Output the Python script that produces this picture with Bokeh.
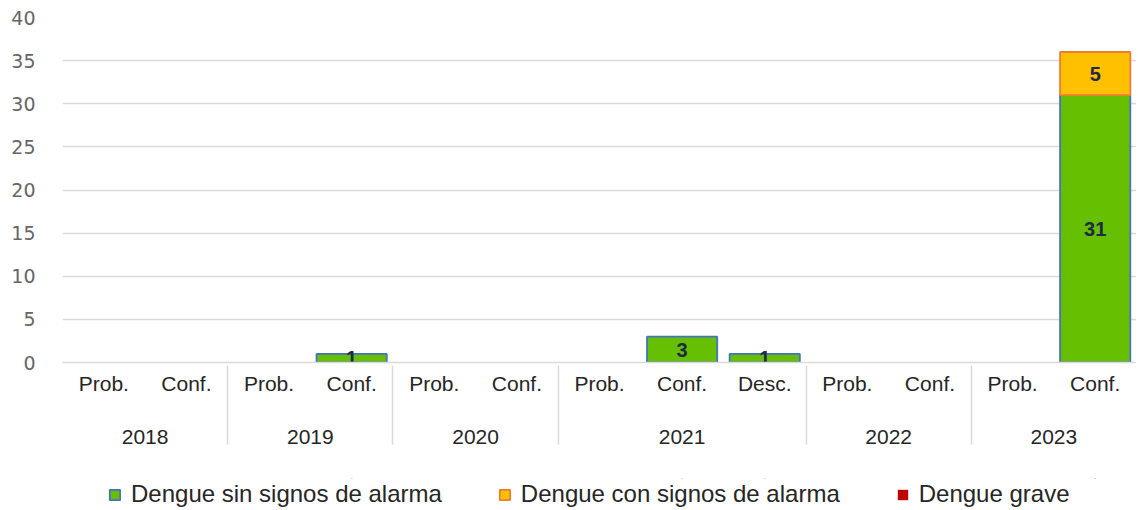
from bokeh.plotting import figure
from bokeh.models import FactorRange, ColumnDataSource, Legend, LegendItem, Range1d, FixedTicker
from bokeh.layouts import column
from bokeh.embed import file_html
from bokeh.resources import INLINE
from bokeh.core.properties import value

# ---------------- data ----------------
years = ["2018", "2019", "2020", "2021", "2022", "2023"]
statuses = [["Prob.", "Conf."], ["Prob.", "Conf."], ["Prob.", "Conf."],
            ["Prob.", "Conf.", "Desc."], ["Prob.", "Conf."], ["Prob.", "Conf."]]
sin_signos = [0, 0, 0, 1, 0, 0, 0, 3, 1, 0, 0, 0, 31]
con_signos = [0, 0, 0, 0, 0, 0, 0, 0, 0, 0, 0, 0, 5]
grave = [0, 0, 0, 0, 0, 0, 0, 0, 0, 0, 0, 0, 0]
series_names = ["Dengue sin signos de alarma", "Dengue con signos de alarma", "Dengue grave"]
y_ticks = [0, 5, 10, 15, 20, 25, 30, 35, 40]

# leading newline only pushes the year row further below the status row
factors = [("\n" + y, s) for y, ss in zip(years, statuses) for s in ss]
series = [sin_signos, con_signos, grave]
fills = ["#66BF00", "#FFC000", "#C00000"]
lines = ["#4472C4", "#ED7D31", None]

xr = FactorRange(*factors, factor_padding=0, group_padding=0, range_padding=0)
p = figure(x_range=xr, y_range=Range1d(0, 40), frame_width=1074, frame_height=345,
           output_backend="svg", toolbar_location=None,
           min_border_left=62, min_border_top=17, min_border_right=0, min_border_bottom=116)

p.outline_line_color = None
p.xgrid.grid_line_color = None
p.ygrid.grid_line_color = "#D9D9D9"
p.ygrid.grid_line_width = 1.5

p.yaxis.ticker = FixedTicker(ticks=y_ticks)
p.yaxis.axis_line_color = None
p.yaxis.major_tick_line_color = None
p.yaxis.minor_tick_line_color = None
p.yaxis.major_tick_out = 0
p.yaxis.major_label_standoff = 27
p.yaxis.major_label_text_font = "DejaVu Sans"
p.yaxis.major_label_text_font_size = "19px"
p.yaxis.major_label_text_color = "#666666"

xa = p.xaxis[0]
xa.axis_line_color = "#D9D9D9"
xa.axis_line_width = 1.5
xa.major_tick_line_color = None
xa.minor_tick_line_color = None
xa.major_tick_out = 0
xa.major_label_text_font = "Liberation Sans"
xa.major_label_text_font_size = "21px"
xa.major_label_text_color = "#262626"
xa.major_label_standoff = 9
xa.group_text_font = "Liberation Sans"
xa.group_text_font_size = "21px"
xa.group_text_font_style = "normal"
xa.group_text_color = "#262626"
xa.group_text_line_height = 0.8
xa.separator_line_color = "#D9D9D9"
xa.separator_line_width = 1.5

# legend strip: same sources; zero-width bars far outside its y-range, so only the keys show
lf = figure(x_range=xr, y_range=Range1d(-1001, -1000), width=1136, height=32,
            output_backend="svg", toolbar_location=None, min_border=0)
lf.axis.visible = False
lf.grid.grid_line_color = None
lf.outline_line_color = None

legend_items = []
bottoms = [0] * len(factors)
for name, vals, fc, lc in zip(series_names, series, fills, lines):
    idx = [i for i, v in enumerate(vals) if v > 0]
    if not idx:
        idx = list(range(len(vals)))  # zero-height bars, invisible (no outline)
    src = ColumnDataSource(dict(
        x=[factors[i] for i in idx],
        bottom=[bottoms[i] for i in idx],
        top=[bottoms[i] + vals[i] for i in idx]))
    p.vbar(x="x", bottom="bottom", top="top", width=0.85, source=src,
           fill_color=fc, line_color=lc, line_width=1.8)
    lr = lf.vbar(x="x", bottom="bottom", top="top", width=0, source=src,
                 fill_color=fc, line_color=lc, line_width=1.8)
    legend_items.append(LegendItem(label=name, renderers=[lr]))
    lab_idx = [i for i, v in enumerate(vals) if v > 0]
    lsrc = ColumnDataSource(dict(
        x=[factors[i] for i in lab_idx],
        mid=[bottoms[i] + vals[i] / 2 for i in lab_idx],
        lab=[str(vals[i]) for i in lab_idx]))
    p.text(x="x", y="mid", text="lab", source=lsrc, text_align="center", text_baseline="middle",
           text_font=value("Liberation Sans"), text_font_style="bold", text_font_size="20px",
           text_color="#1F2A44")
    bottoms = [b + v for b, v in zip(bottoms, vals)]

legend = Legend(items=legend_items, orientation="horizontal", location=(46, 2),
                label_text_font="Liberation Sans", label_text_font_size="24px",
                label_text_color="#262626", glyph_width=13, glyph_height=13,
                label_height=26, spacing=56, label_standoff=10, padding=0, margin=0,
                border_line_color=None, background_fill_alpha=0)
lf.add_layout(legend, "center")

layout = column(p, lf, spacing=0)
open("out.html", "w").write(file_html(layout, INLINE))
